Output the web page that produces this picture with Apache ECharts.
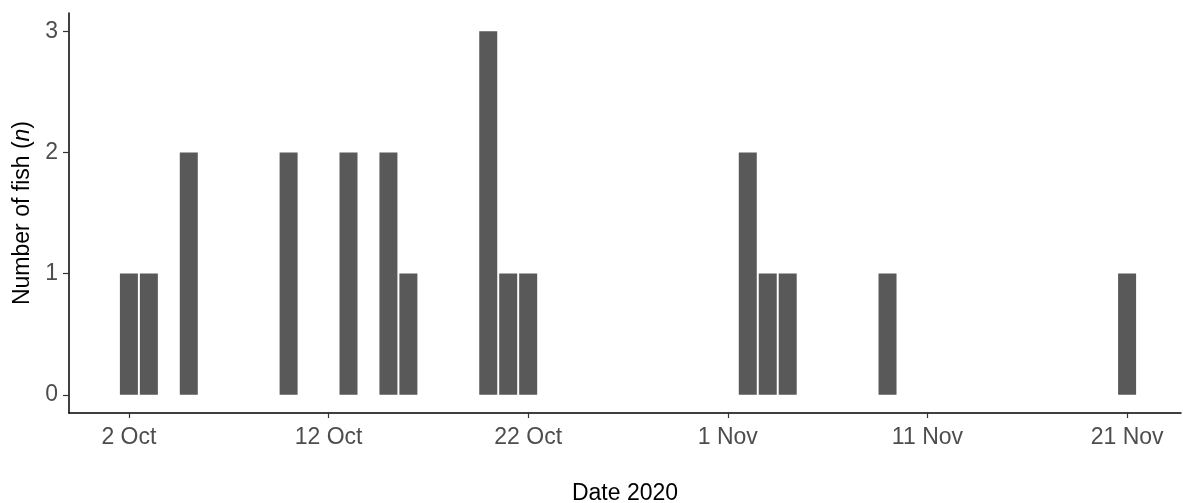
<!DOCTYPE html>
<html><head><meta charset="utf-8">
<script src="https://cdn.jsdelivr.net/npm/echarts@6/dist/echarts.min.js"></script>
<style>html,body{margin:0;padding:0;background:#fff}#c{width:1183px;height:503px}</style>
</head><body><div id="c"></div>
<script>
const dates = ['2020-10-02','2020-10-03','2020-10-05','2020-10-10','2020-10-13','2020-10-15','2020-10-16','2020-10-20','2020-10-21','2020-10-22','2020-11-02','2020-11-03','2020-11-04','2020-11-09','2020-11-21'];
const counts = [1,1,2,2,2,2,1,3,1,1,2,1,1,1,1];
const tickDates = ['2020-10-02','2020-10-12','2020-10-22','2020-11-01','2020-11-11','2020-11-21'];
const tickLabels = ['2 Oct','12 Oct','22 Oct','1 Nov','11 Nov','21 Nov'];
const yTicks = [0,1,2,3];

const day = d => Math.round(Date.parse(d) / 86400000);
const tickDays = tickDates.map(day);
const start = day(dates[0]);
const FONT = '"Liberation Sans", Arial, sans-serif';
const FS = 23;

const chart = echarts.init(document.getElementById('c'), null, {renderer: 'canvas'});
chart.setOption({
  animation: false,
  backgroundColor: '#ffffff',
  grid: {left: 69, right: 2, top: 13, bottom: 90, containLabel: false, outerBoundsMode: 'none'},
  xAxis: {
    type: 'value',
    min: start - 3,
    max: start + 52.7,
    splitLine: {show: false},
    axisLine: {onZero: false, lineStyle: {color: '#000', width: 1.5}},
    axisTick: {customValues: tickDays, length: 5, lineStyle: {color: '#333', width: 1.2}},
    axisLabel: {
      customValues: tickDays,
      margin: 13,
      color: '#4d4d4d',
      fontFamily: FONT,
      fontSize: FS,
      formatter: v => tickLabels[tickDays.indexOf(Math.round(v))]
    },
    name: 'Date 2020',
    nameLocation: 'middle',
    nameGap: 69,
    nameTextStyle: {color: '#000', fontFamily: FONT, fontSize: FS}
  },
  yAxis: {
    type: 'value',
    min: -0.15,
    max: 3.15,
    splitLine: {show: false},
    axisLine: {onZero: false, lineStyle: {color: '#000', width: 1.5}},
    axisTick: {customValues: yTicks, length: 6, lineStyle: {color: '#333', width: 1.2}},
    axisLabel: {
      customValues: yTicks,
      margin: 11,
      color: '#4d4d4d',
      fontFamily: FONT,
      fontSize: FS
    },
    name: '{a|Number of fish (}{b|n}{a|)}',
    nameLocation: 'middle',
    nameGap: 33,
    nameTextStyle: {
      rich: {
        a: {color: '#000', fontFamily: FONT, fontSize: FS},
        b: {color: '#000', fontFamily: FONT, fontSize: FS, fontStyle: 'italic'}
      }
    }
  },
  series: [{
    type: 'bar',
    data: dates.map((d, i) => [day(d), counts[i]]),
    barWidth: 18,
    itemStyle: {color: '#595959'}
  }]
});
</script></body></html>
